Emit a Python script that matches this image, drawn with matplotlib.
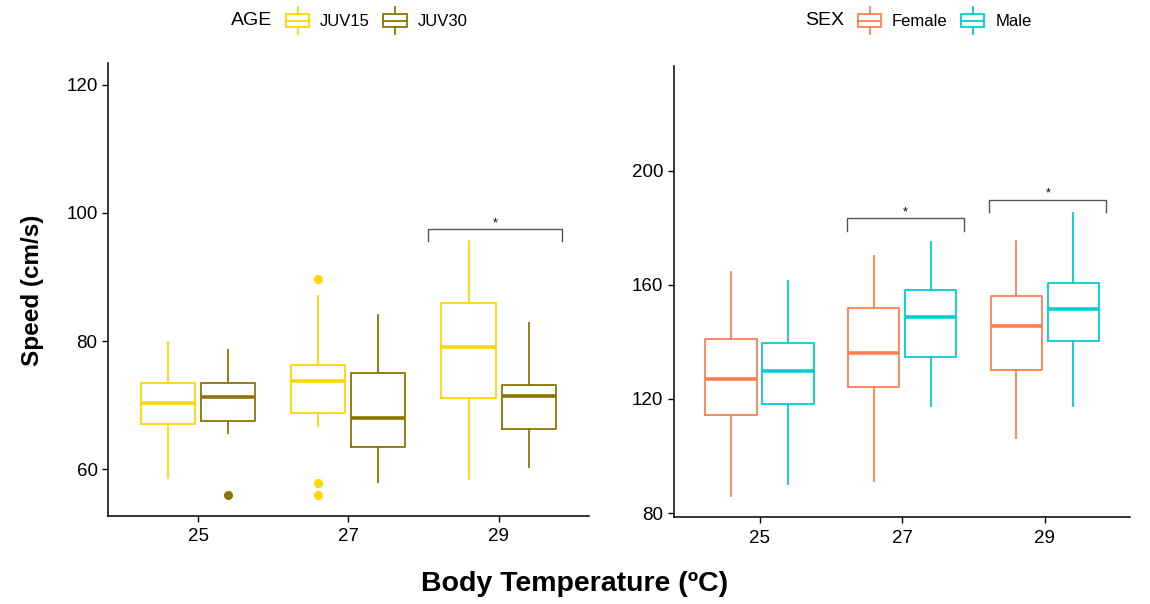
import matplotlib
matplotlib.use('Agg')
import matplotlib.pyplot as plt
from matplotlib.legend_handler import HandlerBase
from matplotlib.patches import Rectangle
from matplotlib.lines import Line2D

plt.rcParams['font.family'] = ['Liberation Sans', 'DejaVu Sans']

# Данные
temps = ['25', '27', '29']

juv15_whislo = [58.7, 66.7, 58.4]
juv15_q1 = [67.1, 68.8, 71.1]
juv15_med = [70.4, 73.8, 79.1]
juv15_q3 = [73.4, 76.2, 85.9]
juv15_whishi = [79.8, 87.0, 95.6]
juv15_fliers = [[], [89.7, 57.8, 55.9], []]

juv30_whislo = [65.7, 58.0, 60.4]
juv30_q1 = [67.5, 63.4, 66.2]
juv30_med = [71.2, 68.0, 71.5]
juv30_q3 = [73.4, 75.0, 73.1]
juv30_whishi = [78.6, 84.0, 82.8]
juv30_fliers = [[55.9], [], []]

female_whislo = [85.9, 91.2, 106.3]
female_q1 = [114.3, 124.1, 130.2]
female_med = [126.8, 136.1, 145.4]
female_q3 = [141.0, 151.7, 156.0]
female_whishi = [164.3, 169.9, 175.4]

male_whislo = [90.0, 117.4, 117.4]
male_q1 = [118.3, 134.8, 140.3]
male_med = [129.8, 148.6, 151.6]
male_q3 = [139.7, 158.0, 160.7]
male_whishi = [161.2, 174.8, 185.1]

# значимые различия: (индекс температуры, уровень скобки, кончики)
age_sig = [(2, 97.5, 95.6)]
sex_sig = [(1, 183.3, 178.9), (2, 189.8, 185.4)]

c_juv15 = '#FFD700'
c_juv30 = '#8B7500'
c_female = '#FF7F50'
c_male = '#00CED1'


def make_stats(whislo, q1, med, q3, whishi, fliers=None):
    out = []
    for i in range(len(med)):
        out.append(dict(whislo=whislo[i], q1=q1[i], med=med[i], q3=q3[i],
                        whishi=whishi[i], fliers=fliers[i] if fliers else []))
    return out


def draw_boxes(ax, stats, pos, color):
    ax.bxp(stats, positions=pos, widths=0.36, showcaps=False, patch_artist=False,
           boxprops=dict(color=color, linewidth=1.3),
           whiskerprops=dict(color=color, linewidth=1.3),
           medianprops=dict(color=color, linewidth=2.6, solid_capstyle='butt'),
           flierprops=dict(marker='o', markerfacecolor=color, markeredgecolor=color,
                           markersize=5.5, linestyle='none'))


class BoxHandler(HandlerBase):
    def create_artists(self, legend, orig_handle, xdescent, ydescent, width, height, fontsize, trans):
        c = orig_handle.get_color()
        cx = width / 2 - xdescent
        b0 = -ydescent + height * 0.26
        b1 = -ydescent + height * 0.74
        rect = Rectangle((-xdescent, b0), width, b1 - b0, facecolor='white',
                         edgecolor=c, linewidth=1.3, transform=trans)
        med = Line2D([-xdescent, width - xdescent], [(b0 + b1) / 2] * 2, color=c, lw=1.3, transform=trans)
        w1 = Line2D([cx, cx], [-ydescent, b0], color=c, lw=1.3, transform=trans)
        w2 = Line2D([cx, cx], [b1, height - ydescent], color=c, lw=1.3, transform=trans)
        return [rect, med, w1, w2]


def sig_bracket(ax, x0, x1, y, tip):
    ax.plot([x0, x0, x1, x1], [tip, y, y, tip], color='#555555', lw=1.0)
    ax.text((x0 + x1) / 2, y, '*', ha='center', va='bottom', fontsize=9)


def style_axes(ax):
    for s in ['top', 'right']:
        ax.spines[s].set_visible(False)
    ax.spines['left'].set_linewidth(1.1)
    ax.spines['bottom'].set_linewidth(1.1)
    ax.tick_params(axis='both', labelsize=13.5, length=4, width=1.0, colors='black')
    ax.tick_params(axis='x', pad=5)
    ax.set_xticks(range(len(temps)))
    ax.set_xticklabels(temps)
    ax.set_xlim(-0.6, len(temps) - 0.4)


fig = plt.figure(figsize=(11.5, 6.04), dpi=100)
ax1 = fig.add_axes([0.0939, 0.1457, 0.418, 0.75])
ax2 = fig.add_axes([0.586, 0.144, 0.397, 0.747])

x = list(range(len(temps)))
draw_boxes(ax1, make_stats(juv15_whislo, juv15_q1, juv15_med, juv15_q3, juv15_whishi, juv15_fliers),
           [p - 0.2 for p in x], c_juv15)
draw_boxes(ax1, make_stats(juv30_whislo, juv30_q1, juv30_med, juv30_q3, juv30_whishi, juv30_fliers),
           [p + 0.2 for p in x], c_juv30)
draw_boxes(ax2, make_stats(female_whislo, female_q1, female_med, female_q3, female_whishi),
           [p - 0.2 for p in x], c_female)
draw_boxes(ax2, make_stats(male_whislo, male_q1, male_med, male_q3, male_whishi),
           [p + 0.2 for p in x], c_male)

for i, y, tip in age_sig:
    sig_bracket(ax1, i - 0.47, i + 0.42, y, tip)
for i, y, tip in sex_sig:
    sig_bracket(ax2, i - 0.39, i + 0.43, y, tip)

style_axes(ax1)
style_axes(ax2)
ax1.set_ylim(52.7, 123.4)
ax1.set_yticks([60, 80, 100, 120])
ax2.set_ylim(78.6, 236.7)
ax2.set_yticks([80, 120, 160, 200])

# Подписи осей
fig.text(0.028, 0.52, 'Speed (cm/s)', rotation=90, ha='center', va='center',
         fontsize=17.5, fontweight='bold')
fig.text(0.5, 0.033, 'Body Temperature (ºC)', ha='center', va='center',
         fontsize=20.5, fontweight='bold')

# Легенды
leg_kw = dict(loc='center left', ncol=2, frameon=False, fontsize=12,
              handler_map={Line2D: BoxHandler()}, handlelength=1.4, handleheight=2.2,
              handletextpad=0.65, columnspacing=0.8, borderpad=0, borderaxespad=0)

fig.text(0.2005, 0.966, 'AGE', ha='left', va='center', fontsize=14)
h1 = [Line2D([], [], color=c_juv15), Line2D([], [], color=c_juv30)]
fig.legend(h1, ['JUV15', 'JUV30'], bbox_to_anchor=(0.2487, 0.966), **leg_kw)

fig.text(0.7005, 0.966, 'SEX', ha='left', va='center', fontsize=14)
h2 = [Line2D([], [], color=c_female), Line2D([], [], color=c_male)]
fig.legend(h2, ['Female', 'Male'], bbox_to_anchor=(0.746, 0.966), **leg_kw)

fig.savefig('out.png', dpi=100)
